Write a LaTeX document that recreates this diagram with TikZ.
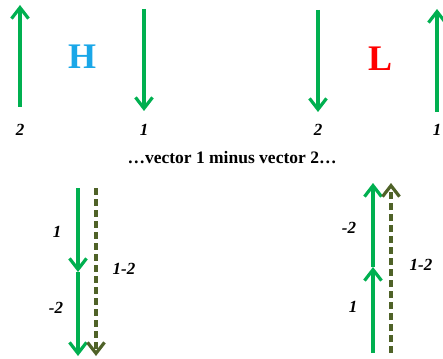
\documentclass[tikz,border=0pt]{standalone}
\usepackage{fontspec}
\setmainfont{Liberation Serif}
\usetikzlibrary{arrows.meta}
\definecolor{vgreen}{HTML}{00B050}
\definecolor{volive}{HTML}{4F6228}
\definecolor{hblue}{HTML}{1AA7E8}
\tikzset{
  vec/.style={draw=vgreen, line width=3.6pt, -{Straight Barb[length=11pt,width=17pt,line width=3.2pt]}},
  dvec/.style={draw=volive, line width=3.6pt, dash pattern=on 7pt off 4pt, -{Straight Barb[length=11pt,width=17pt,line width=3.2pt]}},
  lbl/.style={font=\fontsize{17}{17}\selectfont\bfseries\itshape, inner sep=0pt},
  big/.style={font=\fontsize{36}{36}\selectfont\bfseries, inner sep=0pt}
}
\begin{document}
\begin{tikzpicture}[x=1pt,y=-1pt]
\useasboundingbox (0,0) rectangle (443,358);
% top left
\coordinate (a1s) at (20,107); \coordinate (a1e) at (20,5);
\coordinate (a2s) at (144,9); \coordinate (a2e) at (144,111);
\draw[vec] (a1s) -- (a1e);
\draw[vec] (a2s) -- (a2e);
\node[big, text=hblue] (H) at (82,57) {H};
\node[lbl] (l2a) at (20,130) {2};
\node[lbl] (l1a) at (144,130) {1};
% top right
\coordinate (b2s) at (318,10); \coordinate (b2e) at (318,112);
\coordinate (b1s) at (437,112); \coordinate (b1e) at (437,9);
\draw[vec] (b2s) -- (b2e);
\draw[vec] (b1s) -- (b1e);
\node[big, text=red] (L) at (380,59) {L};
\node[lbl] (l2b) at (318,130) {2};
\node[lbl] (l1b) at (437,130) {1};
% middle text
\node[font=\fontsize{17.5}{17.5}\selectfont\bfseries, inner sep=0pt] (mid) at (232,158) {…vector 1 minus vector 2…};
% bottom left
\coordinate (c0) at (78,188); \coordinate (c1) at (78,272); \coordinate (c2) at (78,356);
\draw[vec] (c0) -- (c1);
\draw[vec] (c1) -- (c2);
\coordinate (d0) at (96,188); \coordinate (d1) at (96,356);
\draw[dvec] (d0) -- (d1);
\node[lbl] (cl1) at (57,232) {1};
\node[lbl] (cl2) at (56,308) {-2};
\node[lbl] (cl3) at (124,269) {1-2};
% bottom right
\coordinate (e0) at (373,353); \coordinate (e1) at (373,267); \coordinate (e2) at (373,183);
\draw[vec] (e0) -- (e1);
\draw[vec] (e1) -- (e2);
\coordinate (f0) at (391,353); \coordinate (f1) at (391,183);
\draw[dvec] (f0) -- (f1);
\node[lbl] (el1) at (349,228) {-2};
\node[lbl] (el2) at (353,307) {1};
\node[lbl] (el3) at (421,265) {1-2};
\end{tikzpicture}
\end{document}
